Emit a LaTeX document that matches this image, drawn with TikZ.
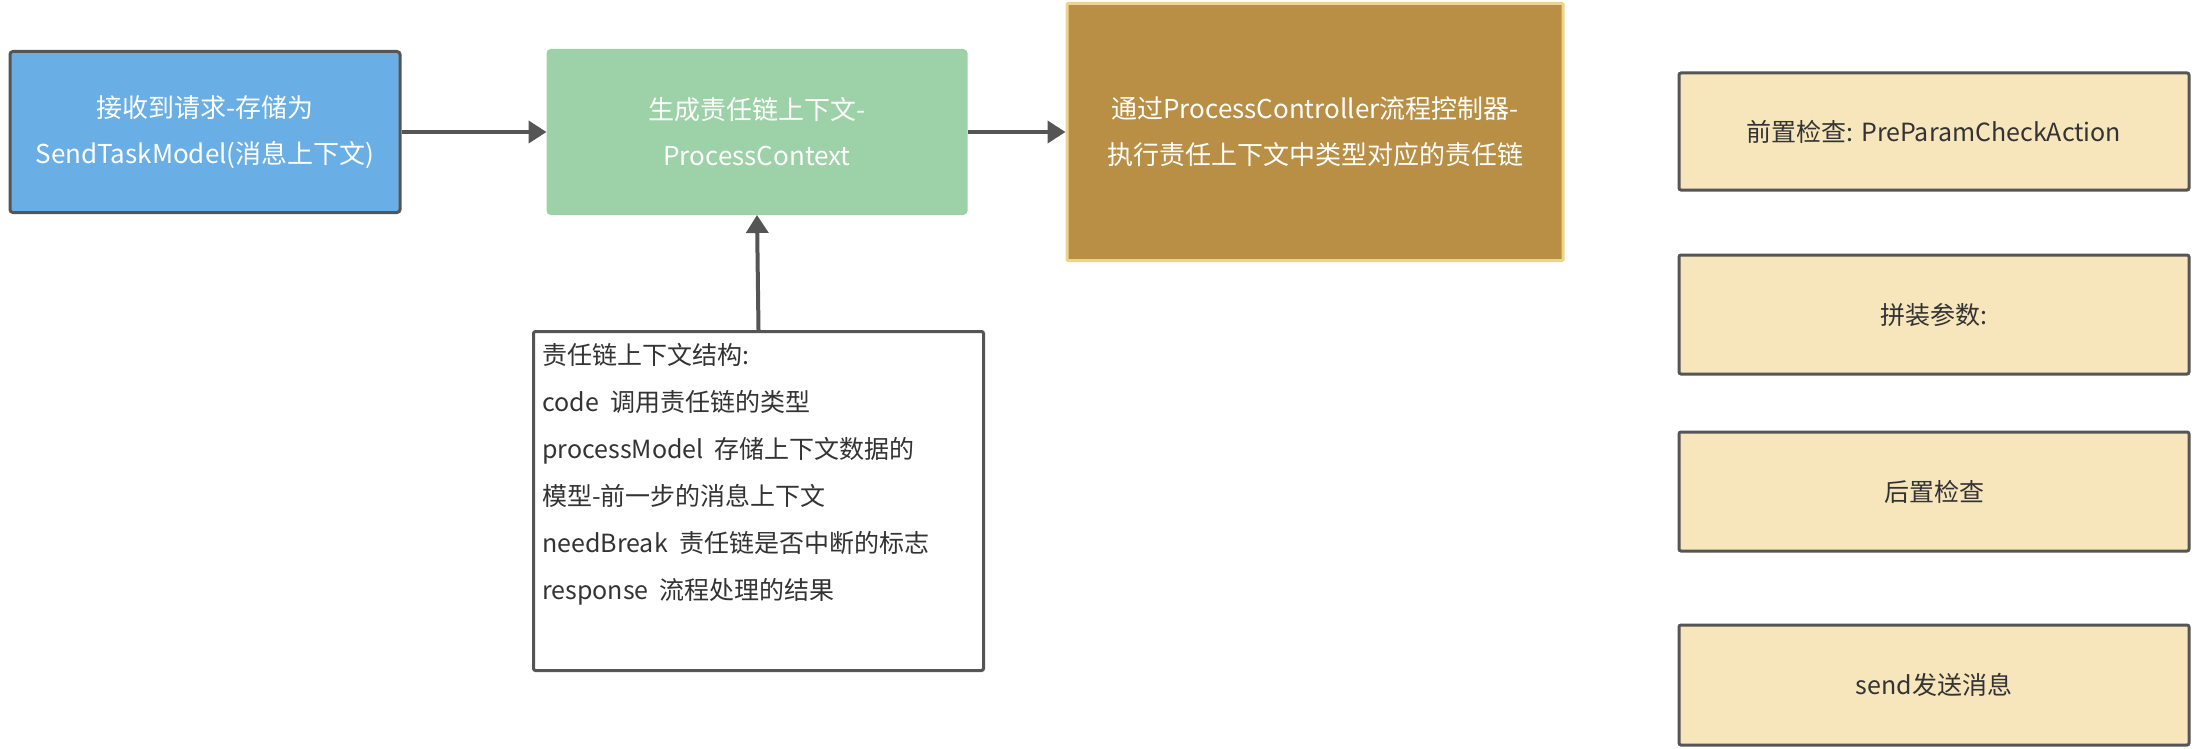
\documentclass[tikz,border=0pt]{standalone}
\usepackage{fontspec}
\setmainfont{Noto Sans CJK SC}
\usetikzlibrary{positioning,arrows.meta}

\definecolor{recvblue}{HTML}{69AFE5}
\definecolor{ctxgreen}{HTML}{9DD1A8}
\definecolor{ctrlbrown}{HTML}{B88F45}
\definecolor{ctrledge}{HTML}{EED38C}
\definecolor{stepyellow}{HTML}{F7E6BC}
\definecolor{edgegray}{HTML}{555555}
\definecolor{textgray}{HTML}{333333}

\begin{document}
\begin{tikzpicture}[
        x=1pt, y=-1pt, % one unit is one pixel of the picture
        % Define a style for the boxes of the main flow
        flowbox/.style={rectangle, rounded corners=3pt, line width=3pt, align=center,
            text=white, font=\fontsize{26}{46}\selectfont},
        % Define a style for the step boxes on the right
        stepbox/.style={rectangle, rounded corners=2pt, line width=3pt, draw=edgegray,
            fill=stepyellow, text=textgray, minimum width=510, font=\fontsize{25}{40}\selectfont},
        % Define a style for the connectors
        flowarrow/.style={draw=edgegray, line width=4pt, -{Triangle[length=18pt,width=22pt]}}
    ]

    % Fix the page to the size of the reference
    \useasboundingbox (0,0) rectangle (2198,749);

    % Draw the main flow
    \node[flowbox, draw=edgegray, fill=recvblue, minimum width=390, minimum height=161]
        (recv) at (205,132) {接收到请求-存储为\\SendTaskModel(消息上下文)};
    \node[flowbox, draw=ctxgreen, fill=ctxgreen, minimum width=418, minimum height=163]
        (ctxgen) at (757,132) {生成责任链上下文-\\ProcessContext};
    \node[flowbox, draw=ctrledge, fill=ctrlbrown, minimum width=496, minimum height=257, rounded corners=1pt]
        (ctrl) at (1315,132) {通过ProcessController流程控制器-\\执行责任上下文中类型对应的责任链};

    % Draw the structure of the context
    \node[rectangle, rounded corners=2pt, line width=3pt, draw=edgegray, fill=white,
        minimum width=450, minimum height=339, anchor=north west]
        (ctxbox) at (532,330) {};
    \node[anchor=north west, align=left, text=textgray, inner sep=0pt,
        font=\fontsize{25}{47}\selectfont]
        (ctxtext) at ([shift={(10,13)}]ctxbox.north west) {责任链上下文结构:\\
        code\ \ 调用责任链的类型\\
        processModel\ \ 存储上下文数据的\\
        模型-前一步的消息上下文\\
        needBreak\ \ 责任链是否中断的标志\\
        response\ \ 流程处理的结果};

    % Draw the steps of the chain
    \node[stepbox, minimum height=117] (precheck) at (1934,131.5) {前置检查: PreParamCheckAction};
    \node[stepbox, minimum height=119] (assemble) at (1934,314.5) {拼装参数:};
    \node[stepbox, minimum height=119] (postcheck) at (1934,491.5) {后置检查};
    \node[stepbox, minimum height=120] (send) at (1934,685) {send发送消息};

    % Connect the boxes
    \draw[flowarrow] (recv.east) -- (ctxgen.west);
    \draw[flowarrow] (ctxgen.east) -- (ctrl.west);
    \draw[flowarrow] (ctxbox.north) -- (ctxgen.south);

\end{tikzpicture}
\end{document}
